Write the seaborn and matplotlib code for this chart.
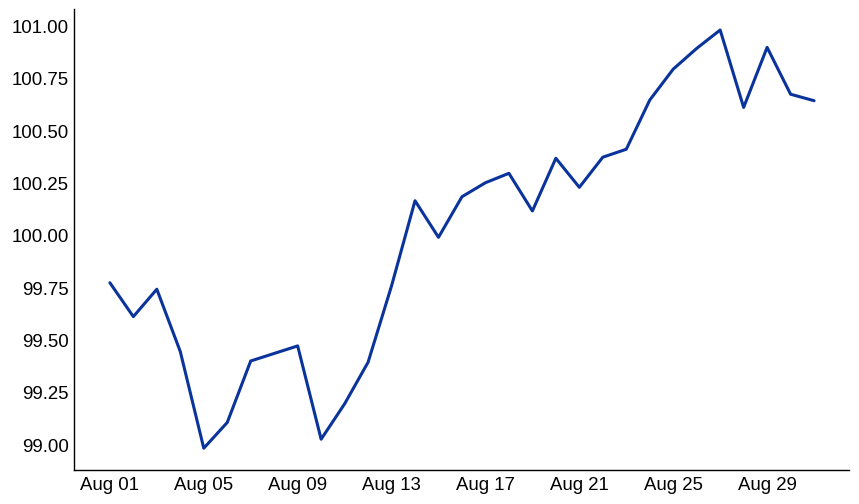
import matplotlib
matplotlib.use("Agg")
import matplotlib.pyplot as plt
import matplotlib.dates as mdates
import seaborn as sns
import pandas as pd

# daily values
dates = pd.date_range("2023-08-01", "2023-08-31", freq="D")
values = [99.776, 99.614, 99.745, 99.447, 98.985, 99.108, 99.402, 99.438,
          99.474, 99.028, 99.197, 99.396, 99.761, 100.168, 99.993, 100.187,
          100.254, 100.299, 100.119, 100.371, 100.232, 100.376, 100.414,
          100.649, 100.797, 100.896, 100.984, 100.614, 100.901, 100.677,
          100.646]
tick_days = ["2023-08-01", "2023-08-05", "2023-08-09", "2023-08-13",
             "2023-08-17", "2023-08-21", "2023-08-25", "2023-08-29"]
y_ticks = [99.00, 99.25, 99.50, 99.75, 100.00, 100.25, 100.50, 100.75, 101.00]

df = pd.DataFrame({"date": dates, "value": values})

sns.set_style("white")
plt.rcParams["font.family"] = ["Liberation Sans", "DejaVu Sans"]

fig = plt.figure(figsize=(8.59, 5.04), dpi=100)
ax = fig.add_axes([0.0861, 0.0675, 0.9023, 0.9145])

sns.lineplot(data=df, x="date", y="value", ax=ax, color="#0a349c", linewidth=2.2)

ax.set_xlim(dates[0] - pd.Timedelta(days=1.53), dates[-1] + pd.Timedelta(days=1.49))
ax.set_ylim(98.881, 101.084)
ax.set_xticks(pd.to_datetime(tick_days))
ax.xaxis.set_major_formatter(mdates.DateFormatter("%b %d"))
ax.set_yticks(y_ticks)
ax.set_yticklabels([f"{v:.2f}" for v in y_ticks])
ax.tick_params(axis="both", length=0, labelsize=13.4, colors="black")
ax.tick_params(axis="x", pad=5)
ax.tick_params(axis="y", pad=3.5)
ax.set_xlabel("")
ax.set_ylabel("")

sns.despine(ax=ax)
for side in ["left", "bottom"]:
    ax.spines[side].set_color("black")
    ax.spines[side].set_linewidth(1.0)

fig.savefig("out.png", dpi=100)
